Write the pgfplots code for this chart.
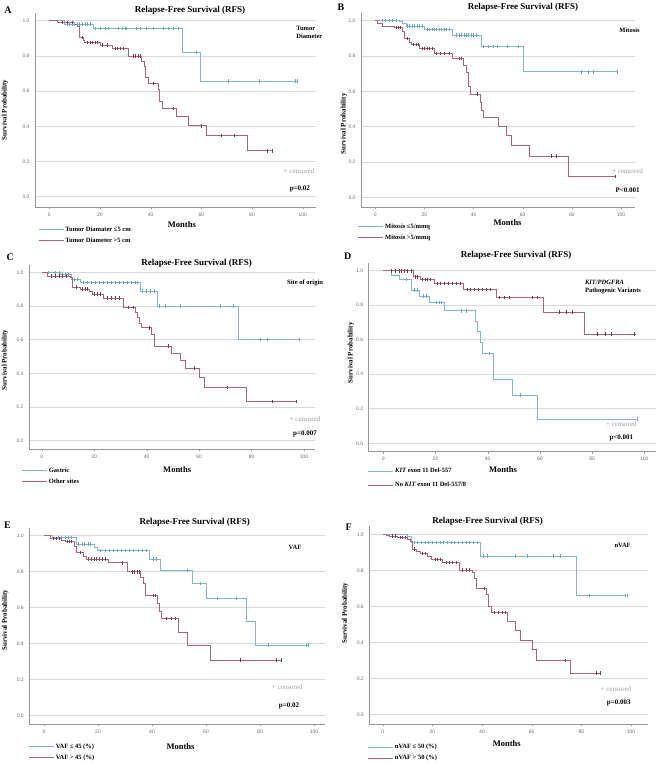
\documentclass[border=0pt]{standalone}
\usepackage{fontspec}
\setmainfont{Liberation Serif}
\newfontfamily\ticksf{Liberation Sans}
\usepackage{pgfplots}
\pgfplotsset{compat=1.18}
\definecolor{kmblue}{RGB}{125,182,208}
\definecolor{kmred}{RGB}{172,98,124}
\definecolor{kmbluem}{RGB}{105,165,198}
\definecolor{kmredm}{RGB}{125,55,82}
\definecolor{gridc}{RGB}{218,218,218}
\definecolor{axc}{RGB}{150,150,150}
\tikzset{
  lett/.style={font=\bfseries\fontsize{10}{11}\selectfont},
  cens/.style={font=\fontsize{7}{8}\selectfont, text=gray!75},
  pv/.style={font=\bfseries\fontsize{7}{8}\selectfont},
  ann/.style={font=\bfseries\fontsize{6.5}{7.5}\selectfont, align=left},
}
\pgfplotsset{
  km/.style={
    clip=false,
    axis lines*=left,
    axis line style={axc, line width=0.6pt},
    ymajorgrids,
    grid style={gridc, line width=0.6pt},
    ytick={0,0.2,0.4,0.6,0.8,1},
    xtick={0,20,40,60,80,100},
    ytick style={draw=none},
    xtick style={axc},
    major tick length=2pt,
    tick align=outside,
    /pgf/number format/assume math mode=true,
    ticklabel style={font=\ticksf\fontsize{5}{6}\selectfont, text=gray!85!black},
    yticklabel style={/pgf/number format/fixed, /pgf/number format/fixed zerofill, /pgf/number format/precision=1},
    every axis title/.style={at={(0.5,1)}, anchor=center, font=\bfseries\fontsize{9}{10}\selectfont},
    xlabel style={font=\bfseries\fontsize{8.5}{10}\selectfont, anchor=center},
    ylabel style={font=\bfseries\fontsize{7}{8}\selectfont, anchor=center},
    xlabel={Months}, ylabel={Survival Probability},
    title={Relapse-Free Survival (RFS)},
    legend cell align=left,
    legend image code/.code={\draw[#1] (0pt,0pt) -- (25pt,0pt);},
    legend style={draw=none, fill=none, anchor=north west, inner sep=0pt,
      font=\bfseries\fontsize{6.5}{7}\selectfont, row sep=2pt,
      nodes={inner sep=1.5pt}},
  },
  bl/.style={kmblue, line width=0.65pt, const plot, mark=none},
  rd/.style={kmred, line width=0.65pt, const plot, mark=none},
  bc/.style={only marks, mark=|, mark size=1.8pt, kmbluem, mark options={line width=0.5pt}, forget plot},
  rc/.style={only marks, mark=|, mark size=1.8pt, kmredm, mark options={line width=0.5pt}, forget plot},
}
\begin{document}
\begin{tikzpicture}
\useasboundingbox (0pt,0pt) rectangle (656pt,-762pt);

% ---------------- A ----------------
\begin{axis}[km, anchor=origin, at={(49.3pt,-196.7pt)}, x=2.534pt, y=176pt,
  xmin=-5.64, xmax=105.2, ymin=-0.0585, ymax=1.045,
  title style={at={(axis description cs:0.552,1.015)}},
  xlabel style={at={(axis description cs:0.523,-0.093)}},
  ylabel style={at={(axis description cs:-0.107,0.5)}},
  legend style={at={(axis description cs:0.011,-0.093)}}]
\addplot[bl] coordinates {(0,1)(6,0.981)(17.4,0.956)(52.6,0.82)(59.7,0.657)(98,0.657)};
\addlegendentry{Tumor Diamater ≤5 cm}
\addplot[rd] coordinates {(0,1)(3,0.99)(10,0.98)(11.2,0.967)(12,0.905)(13.5,0.89)(14,0.876)(20,0.862)(25,0.843)(31,0.80)(36.5,0.767)(37.5,0.742)(38,0.68)(39,0.644)(43,0.61)(43.5,0.54)(44.5,0.50)(50,0.458)(55,0.403)(62,0.348)(78,0.261)(88,0.261)};
\addlegendentry{Tumor Diameter >5 cm}
\addplot[bc] coordinates {(7,0.981)(8,0.981)(9,0.981)(10,0.981)(11,0.981)(12,0.981)(13,0.981)(14,0.981)(15,0.981)(16,0.981)(18,0.956)(20,0.956)(22,0.956)(23.3,0.956)(27.2,0.956)(28.6,0.956)(29.9,0.956)(30.5,0.956)(34.5,0.956)(35.8,0.956)(38.4,0.956)(41,0.956)(45,0.956)(47,0.956)(48.9,0.956)(50.9,0.956)(58,0.82)(70.7,0.657)(82.9,0.657)(97,0.657)(98,0.657)};
\addplot[rc] coordinates {(5,0.99)(7,0.99)(9,0.99)(13,0.905)(15,0.876)(16,0.876)(17,0.876)(18,0.876)(19,0.876)(21,0.862)(23,0.862)(26,0.843)(27,0.843)(28,0.843)(29,0.843)(33,0.80)(34,0.80)(35,0.80)(36,0.80)(41,0.644)(49,0.50)(60,0.403)(68,0.348)(73,0.348)(86,0.261)(88,0.261)};
\node[lett] at (axis description cs:-0.096,1.015) {A};
\node[ann, anchor=west] at (axis description cs:0.918,0.9) {Tumor\\Diameter};
\node[cens] at (axis description cs:0.94,0.186) {+ censored};
\node[pv] at (axis description cs:0.943,0.093) {p=0.02};
\end{axis}

% ---------------- B ----------------
\begin{axis}[km, anchor=origin, at={(375.3pt,-197.3pt)}, x=2.457pt, y=176.6pt,
  xmin=-5.8, xmax=105.7, ymin=-0.055, ymax=1.042,
  title style={at={(axis description cs:0.591,1.03)}},
  xlabel style={at={(axis description cs:0.535,-0.081)}},
  ylabel style={at={(axis description cs:-0.062,0.43)}},
  legend style={at={(axis description cs:-0.012,-0.077)}}]
\addplot[bl] coordinates {(0,1)(9.8,0.994)(11,0.985)(12.5,0.97)(20,0.951)(31.5,0.92)(43,0.853)(60.4,0.711)(98.6,0.711)};
\addlegendentry{Mitosis ≤5/mmq}
\addplot[rd] coordinates {(0,1)(1,0.985)(3,0.97)(7.7,0.962)(11,0.94)(12,0.9)(14,0.88)(14.5,0.866)(18,0.843)(24,0.815)(31.5,0.787)(36,0.75)(37,0.71)(38,0.626)(38.7,0.585)(42.6,0.54)(43.3,0.494)(44,0.453)(50.2,0.40)(53.2,0.349)(55.2,0.292)(62.7,0.234)(78.7,0.117)(97.7,0.117)};
\addlegendentry{Mitosis >5/mmq}
\addplot[bc] coordinates {(2.7,1)(4,1)(5.5,1)(7,1)(8.4,1)(13,0.97)(14,0.97)(15,0.97)(16,0.97)(17,0.97)(18,0.97)(19,0.97)(21,0.951)(22,0.951)(23,0.951)(24,0.951)(25,0.951)(26,0.951)(27,0.951)(28,0.951)(29,0.951)(30,0.951)(33,0.92)(34,0.92)(35,0.92)(36,0.92)(37,0.92)(38,0.92)(39,0.92)(40,0.92)(41,0.92)(44,0.853)(46,0.853)(48,0.853)(49.5,0.853)(53.5,0.853)(58.3,0.853)(83.7,0.711)(86.7,0.711)(88.7,0.711)(98.6,0.711)};
\addplot[rc] coordinates {(8.5,0.962)(9.2,0.962)(10,0.962)(13,0.9)(15.5,0.866)(16.5,0.866)(17.3,0.866)(19,0.843)(20,0.843)(21,0.843)(22,0.843)(23,0.843)(25,0.815)(26.5,0.815)(28,0.815)(30,0.815)(34,0.787)(35,0.787)(41.6,0.585)(71.5,0.234)(73.5,0.234)(97.7,0.117)};
\node[lett] at (axis description cs:-0.073,1.03) {B};
\node[ann, anchor=east] at (axis description cs:1.03,0.914) {Mitosis};
\node[cens] at (axis description cs:0.973,0.186) {+ censored};
\node[pv] at (axis description cs:0.973,0.088) {P<0.001};
\end{axis}

% ---------------- C ----------------
\begin{axis}[km, anchor=origin, at={(41.7pt,-440.7pt)}, x=2.623pt, y=168.4pt,
  xmin=-4.84, xmax=104.2, ymin=-0.051, ymax=1.043,
  title style={at={(axis description cs:0.586,1.009)}},
  xlabel style={at={(axis description cs:0.518,-0.112)}},
  ylabel style={at={(axis description cs:-0.084,0.485)}},
  legend style={at={(axis description cs:-0.026,-0.091)}}]
\addplot[bl] coordinates {(0,1)(7,0.99)(11.4,0.958)(14.6,0.94)(37.5,0.89)(44,0.80)(75,0.602)(98.2,0.602)};
\addlegendentry{Gastric}
\addplot[rd] coordinates {(0,1)(2,0.978)(11,0.97)(11.8,0.911)(14.6,0.9)(18,0.885)(19.4,0.871)(23.5,0.846)(31,0.792)(35.8,0.762)(36.6,0.73)(37.2,0.697)(38,0.671)(41.9,0.634)(42.8,0.562)(49.6,0.519)(52.7,0.479)(54.6,0.43)(60.1,0.376)(61.9,0.315)(78.1,0.232)(97.2,0.232)};
\addlegendentry{Other sites}
\addplot[bc] coordinates {(2.5,1)(5,1)(6.7,1)(8,0.99)(9,0.99)(10,0.99)(12.5,0.958)(13.5,0.958)(16,0.94)(17.5,0.94)(19,0.94)(20.5,0.94)(22,0.94)(23.5,0.94)(25,0.94)(26.5,0.94)(28,0.94)(29.5,0.94)(31,0.94)(32.5,0.94)(34,0.94)(35.5,0.94)(36.5,0.94)(38.5,0.89)(40,0.89)(41.5,0.89)(43,0.89)(45,0.80)(47,0.80)(52.7,0.80)(68,0.80)(73,0.80)(83.2,0.602)(85.8,0.602)(98.2,0.602)};
\addplot[rc] coordinates {(3.5,0.978)(5,0.978)(6.5,0.978)(8,0.978)(9.5,0.978)(13,0.911)(15.5,0.9)(16.5,0.9)(17.5,0.9)(20,0.871)(21,0.871)(22.5,0.871)(25,0.846)(26.5,0.846)(28,0.846)(29.5,0.846)(33,0.792)(35,0.792)(40.9,0.671)(48.3,0.562)(58,0.43)(70.9,0.315)(88,0.232)(97.2,0.232)};
\node[lett] at (axis description cs:-0.066,1.043) {C};
\node[ann, anchor=east] at (axis description cs:1.04,0.901) {Site of origin};
\node[cens] at (axis description cs:0.965,0.164) {+ censored};
\node[pv] at (axis description cs:0.965,0.086) {p=0.007};
\end{axis}

% ---------------- D ----------------
\begin{axis}[km, anchor=origin, at={(383.3pt,-443.3pt)}, x=2.61pt, y=172.6pt,
  xmin=-5.6, xmax=104.3, ymin=-0.049, ymax=1.043,
  title style={at={(axis description cs:0.514,1.044)}},
  xlabel style={at={(axis description cs:0.468,-0.097)}},
  ylabel style={at={(axis description cs:-0.062,0.525)}},
  legend style={at={(axis description cs:-0.003,-0.079)}, row sep=5pt}]
\addplot[bl] coordinates {(0,1)(3,0.975)(6.1,0.95)(10.6,0.888)(13.8,0.853)(17.6,0.815)(23.4,0.768)(35.2,0.705)(35.9,0.647)(37,0.583)(38,0.521)(42.3,0.371)(49.3,0.28)(59.1,0.141)(97.4,0.141)};
\addlegendentry{\textit{KIT} exon 11 Del-557}
\addplot[rd] coordinates {(0,1)(11.5,0.965)(14.2,0.95)(19.5,0.927)(30.7,0.892)(43.4,0.844)(61.3,0.759)(77,0.633)(97,0.633)};
\addlegendentry{No \textit{KIT} exon 11 Del-557/8}
\addplot[bc] coordinates {(8.7,0.95)(12,0.888)(13,0.888)(15.3,0.853)(16.6,0.853)(20.2,0.815)(21.5,0.815)(22.3,0.815)(29.7,0.768)(31.7,0.768)(40.6,0.521)(52.4,0.28)(97.4,0.141)};
\addplot[rc] coordinates {(3,1)(4.5,1)(6,1)(7,1)(8,1)(9,1)(10.6,1)(12.3,0.965)(13,0.965)(15,0.95)(16,0.95)(17,0.95)(18,0.95)(20.8,0.927)(22,0.927)(23.5,0.927)(25,0.927)(26.5,0.927)(28,0.927)(29.5,0.927)(32,0.892)(33.5,0.892)(35,0.892)(36.5,0.892)(38,0.892)(39.5,0.892)(41,0.892)(44.5,0.844)(46.4,0.844)(48.3,0.844)(57.2,0.844)(59.1,0.844)(67.4,0.759)(70.2,0.759)(72.3,0.759)(82.1,0.633)(85.1,0.633)(87.2,0.633)(96.2,0.633)};
\node[lett] at (axis description cs:-0.073,1.035) {D};
\node[ann, anchor=west] at (axis description cs:0.742,0.874) {\textit{KIT/PDGFRA}\\Pathogenic Variants};
\node[cens] at (axis description cs:0.881,0.147) {+ censored};
\node[pv] at (axis description cs:0.881,0.071) {p<0.001};
\end{axis}

% ---------------- E ----------------
\begin{axis}[km, anchor=origin, at={(44pt,-715.7pt)}, x=2.7pt, y=180pt,
  xmin=-5.44, xmax=104, ymin=-0.046, ymax=1.043,
  title style={at={(axis description cs:0.56,1.027)}},
  xlabel style={at={(axis description cs:0.512,-0.116)}},
  ylabel style={at={(axis description cs:-0.082,0.53)}},
  legend style={at={(axis description cs:-0.003,-0.092)}}]
\addplot[bl] coordinates {(0,1)(3,0.991)(11.9,0.954)(18.5,0.933)(19.8,0.917)(39,0.869)(43,0.806)(55,0.735)(60,0.652)(75,0.522)(78.1,0.393)(98,0.393)};
\addlegendentry{VAF ≤ 45 (\%)}
\addplot[rd] coordinates {(0,1)(2.2,0.985)(6.5,0.976)(7.8,0.967)(11.1,0.939)(11.9,0.906)(14.6,0.887)(15.6,0.869)(23.8,0.85)(31,0.80)(35.8,0.769)(36.8,0.735)(37.7,0.667)(42,0.624)(42.7,0.581)(43.6,0.541)(49.8,0.461)(53.2,0.389)(61.7,0.309)(87.8,0.309)};
\addlegendentry{VAF > 45 (\%)}
\addplot[bc] coordinates {(5.3,0.991)(6.5,0.991)(8,0.991)(9,0.991)(10.2,0.991)(12.7,0.954)(14,0.954)(15,0.954)(16.4,0.954)(17.3,0.954)(21,0.917)(22.5,0.917)(24,0.917)(25.5,0.917)(27,0.917)(28.5,0.917)(30,0.917)(31.5,0.917)(33,0.917)(35,0.917)(36.5,0.917)(38,0.917)(40.5,0.869)(41.7,0.869)(53.2,0.806)(57.8,0.735)(64.2,0.652)(71.1,0.652)(83,0.393)(97.3,0.393)(98,0.393)};
\addplot[rc] coordinates {(3.5,0.985)(4.5,0.985)(5.5,0.985)(8.6,0.967)(9.5,0.967)(10.2,0.967)(13.3,0.906)(16.5,0.869)(17.5,0.869)(18.5,0.869)(19.5,0.869)(20.5,0.869)(21.5,0.869)(22.5,0.869)(29.1,0.85)(32.5,0.80)(33.5,0.80)(34.5,0.80)(35.3,0.80)(40.5,0.667)(41.1,0.667)(45.4,0.541)(47,0.541)(48.5,0.541)(72.8,0.309)(86,0.309)(87.8,0.309)};
\node[lett] at (axis description cs:-0.074,1.015) {E};
\node[ann] at (axis description cs:0.899,0.9) {VAF};
\node[cens] at (axis description cs:0.873,0.187) {+ censored};
\node[pv] at (axis description cs:0.879,0.092) {p=0.02};
\end{axis}

% ---------------- F ----------------
\begin{axis}[km, anchor=origin, at={(382.7pt,-714.3pt)}, x=2.483pt, y=180pt,
  xmin=-5.4, xmax=106.7, ymin=-0.054, ymax=1.046,
  title style={at={(axis description cs:0.425,1.022)}},
  xlabel style={at={(axis description cs:0.494,-0.101)}},
  ylabel style={at={(axis description cs:-0.087,0.56)}},
  legend style={at={(axis description cs:-0.006,-0.093)}}]
\addplot[bl] coordinates {(0,1)(10,0.987)(11.4,0.954)(39.2,0.88)(78.1,0.661)(98,0.661)};
\addlegendentry{nVAF ≤ 50 (\%)}
\addplot[rd] coordinates {(0,1)(1.3,0.996)(2.7,0.991)(6,0.983)(10,0.972)(11,0.96)(11.8,0.917)(13.7,0.904)(15,0.894)(18.1,0.88)(19.5,0.861)(24.2,0.844)(30.9,0.802)(36.2,0.787)(36.9,0.756)(37.6,0.70)(41.9,0.669)(42.7,0.602)(43.6,0.565)(50,0.515)(53.4,0.465)(55.3,0.409)(60.4,0.363)(62,0.298)(75.4,0.228)(87.8,0.228)};
\addlegendentry{nVAF > 50 (\%)}
\addplot[bc] coordinates {(12.8,0.954)(14,0.954)(15.5,0.954)(17,0.954)(18.5,0.954)(20,0.954)(21.5,0.954)(23,0.954)(24.5,0.954)(26,0.954)(27.5,0.954)(29,0.954)(30.5,0.954)(32,0.954)(33.5,0.954)(35,0.954)(36.5,0.954)(38,0.954)(40.3,0.88)(42.3,0.88)(53.4,0.88)(58.4,0.88)(68.5,0.88)(71.4,0.88)(83.2,0.661)(97.7,0.661)(98.6,0.661)};
\addplot[rc] coordinates {(4,0.991)(5,0.991)(7,0.983)(8,0.983)(9,0.983)(12.8,0.917)(16,0.894)(17,0.894)(21,0.861)(22,0.861)(23,0.861)(25.5,0.844)(26.8,0.844)(28,0.844)(29.5,0.844)(32.2,0.802)(33.5,0.802)(35,0.802)(41,0.70)(45,0.565)(46.5,0.565)(48,0.565)(49.5,0.565)(73.6,0.298)(86.2,0.228)(87.8,0.228)};
\node[lett] at (axis description cs:-0.074,0.996) {F};
\node[ann] at (axis description cs:0.91,0.9) {nVAF};
\node[cens] at (axis description cs:0.886,0.177) {+ censored};
\node[pv] at (axis description cs:0.896,0.105) {p=0.003};
\end{axis}
\end{tikzpicture}
\end{document}
